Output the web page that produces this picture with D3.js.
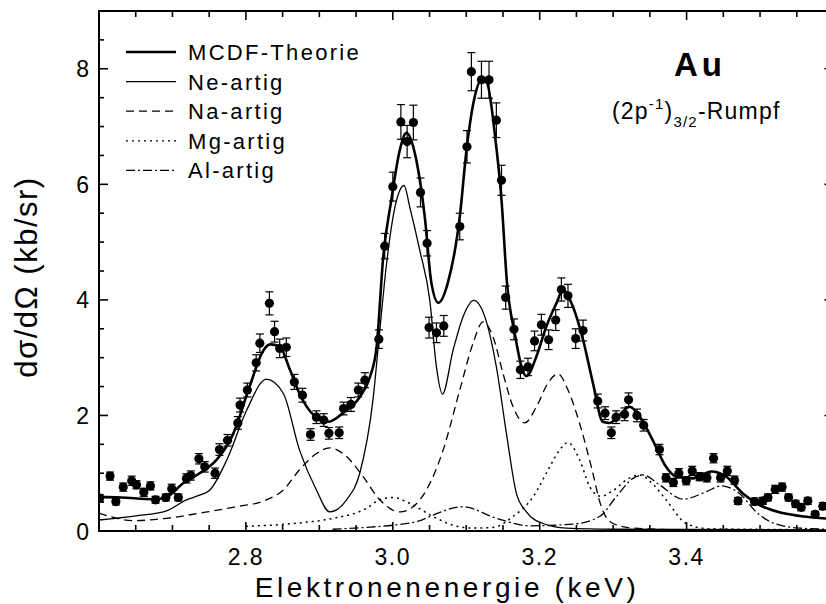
<!DOCTYPE html>
<html><head><meta charset="utf-8">
<script src="https://cdn.jsdelivr.net/npm/d3@7"></script>
<style>body{margin:0;background:#fff}svg{display:block}text{font-family:"Liberation Sans",Arial,sans-serif;fill:#000}</style>
</head><body>
<svg id="c" width="826" height="604"></svg>
<script>
// ---- data ----
const xTicks = [2.8, 3.0, 3.2, 3.4];
const yTicks = [0, 2, 4, 6, 8];
const seriesNames = ["MCDF-Theorie", "Ne-artig", "Na-artig", "Mg-artig", "Al-artig"];

const dataE = [2.601,2.615,2.623,2.633,2.6445,2.651,2.661,2.670,2.677,2.691,2.699,2.708,2.719,2.725,2.736,2.744,2.758,2.764,2.775,2.789,2.792,2.802,2.814,2.819,2.832,2.839,2.846,2.855,2.866,2.877,2.888,2.896,2.906,2.913,2.927,2.933,2.943,2.953,2.962,2.981,2.989,3.000,3.011,3.0195,3.028,3.0377,3.0467,3.0494,3.0595,3.0694,3.0912,3.101,3.107,3.1207,3.131,3.141,3.148,3.1537,3.165,3.1737,3.184,3.193,3.2023,3.2122,3.2218,3.2295,3.2385,3.249,3.259,3.279,3.289,3.2975,3.304,3.3156,3.321,3.3324,3.3415,3.363,3.372,3.382,3.3895,3.3995,3.4077,3.4177,3.4276,3.4367,3.4463,3.4554,3.4653,3.47,3.4925,3.5038,3.5107,3.5206,3.530,3.5388,3.5483,3.556,3.565,3.575,3.5855];
const dataV = [0.57,0.95,0.51,0.76,0.87,0.80,0.67,0.78,0.54,0.58,0.73,0.58,0.91,0.96,1.25,1.11,1.00,1.41,1.57,1.87,2.18,2.44,2.91,3.25,3.94,3.45,3.16,3.18,2.58,2.35,1.67,1.97,1.92,1.69,1.70,2.12,2.19,2.44,2.61,3.32,4.93,5.96,7.08,6.74,7.07,5.86,4.98,3.52,3.43,3.55,5.27,6.65,7.95,7.81,7.81,7.11,6.07,4.04,3.49,2.79,2.84,3.29,3.57,3.31,3.65,4.18,4.07,3.33,3.47,2.25,2.04,1.70,1.97,2.02,2.27,2.00,1.83,1.41,0.92,0.84,1.00,0.87,1.04,0.94,0.92,1.26,0.92,1.04,0.88,0.52,0.51,0.52,0.58,0.72,0.76,0.58,0.47,0.41,0.52,0.29,0.43];
const dataErr = [0.06,0.07,0.06,0.07,0.08,0.07,0.07,0.07,0.06,0.06,0.08,0.06,0.08,0.08,0.09,0.09,0.09,0.1,0.1,0.11,0.12,0.12,0.14,0.16,0.2,0.18,0.16,0.16,0.13,0.12,0.1,0.11,0.11,0.1,0.1,0.11,0.12,0.12,0.13,0.16,0.22,0.25,0.3,0.28,0.3,0.25,0.22,0.18,0.17,0.18,0.23,0.28,0.33,0.32,0.32,0.3,0.26,0.2,0.18,0.15,0.15,0.17,0.18,0.17,0.18,0.2,0.2,0.17,0.18,0.12,0.11,0.1,0.11,0.11,0.12,0.11,0.1,0.09,0.07,0.07,0.08,0.07,0.08,0.07,0.07,0.08,0.07,0.08,0.07,0.06,0.06,0.06,0.06,0.07,0.07,0.06,0.06,0.06,0.06,0.05,0.06];

const totalE = [2.60,2.63,2.674,2.692,2.715,2.737,2.76,2.783,2.805,2.824,2.833,2.846,2.86,2.874,2.892,2.912,2.932,2.955,2.969,2.978,2.987,2.998,3.0095,3.0186,3.032,3.0435,3.0526,3.062,3.075,3.0912,3.1003,3.1116,3.1207,3.1283,3.1388,3.148,3.1555,3.166,3.1773,3.182,3.1955,3.209,3.2227,3.2317,3.2453,3.259,3.2725,3.286,3.295,3.309,3.3224,3.336,3.354,3.372,3.386,3.4086,3.4336,3.454,3.4766,3.4993,3.531,3.56,3.6];
const totalV = [0.59,0.58,0.55,0.59,0.83,1.0,1.23,1.69,2.50,3.13,3.23,3.19,2.79,2.35,2.01,1.89,2.04,2.32,2.67,3.19,4.75,5.73,6.59,6.89,6.42,5.44,4.29,3.95,4.3,5.44,6.59,7.52,7.81,7.75,6.88,5.73,4.29,3.42,2.76,2.68,3.02,3.54,3.94,4.17,3.88,3.31,2.56,1.89,1.87,2.01,2.15,1.98,1.57,1.11,0.94,0.91,1.03,0.94,0.65,0.45,0.31,0.25,0.21];

const neE = [2.60,2.65,2.692,2.719,2.737,2.751,2.774,2.801,2.828,2.851,2.873,2.896,2.914,2.937,2.955,2.973,2.982,2.991,3.003,3.0154,3.023,3.0367,3.0503,3.0594,3.0676,3.0821,3.0957,3.1102,3.1252,3.141,3.1547,3.1683,3.1819,3.2045,3.2363,3.3,3.6];
const neV = [0.19,0.26,0.35,0.54,0.62,0.71,1.23,2.09,2.63,2.38,1.40,0.71,0.33,0.54,1.0,2.27,3.43,4.57,5.61,5.98,5.61,4.86,4.0,2.84,2.37,3.13,3.71,3.99,3.71,2.84,1.69,0.65,0.33,0.13,0.05,0.03,0.02];

const naE = [2.60,2.6467,2.692,2.7374,2.7827,2.828,2.851,2.873,2.896,2.914,2.937,2.9596,2.9823,3.0095,3.0276,3.0458,3.0685,3.0912,3.1093,3.1229,3.1365,3.15,3.1637,3.1796,3.1955,3.2113,3.2249,3.2385,3.2544,3.2703,3.2839,3.2997,3.327,3.4,3.6];
const naV = [0.31,0.18,0.22,0.31,0.41,0.54,0.71,1.06,1.34,1.44,1.29,0.94,0.54,0.33,0.42,0.71,1.40,2.44,3.25,3.62,3.36,2.73,2.15,1.87,2.15,2.56,2.72,2.44,1.86,1.11,0.42,0.13,0.05,0.02,0.01];

const mgE = [2.80,2.873,2.919,2.964,2.982,3.0004,3.023,3.055,3.082,3.109,3.136,3.1637,3.191,3.2136,3.227,3.2385,3.2544,3.268,3.283,3.30,3.32,3.336,3.355,3.372,3.3995,3.43,3.6];
const mgV = [0.08,0.14,0.22,0.39,0.54,0.58,0.48,0.25,0.10,0.05,0.06,0.25,0.59,1.11,1.40,1.53,1.23,0.77,0.6,0.7,0.9,0.97,0.8,0.54,0.13,0.04,0.02];

const alE = [2.918,2.96,3.0,3.037,3.05,3.0957,3.141,3.186,3.2453,3.2816,3.304,3.327,3.3406,3.363,3.395,3.4268,3.447,3.472,3.4948,3.5174,3.554,3.6];
const alV = [0.03,0.06,0.10,0.18,0.25,0.42,0.22,0.09,0.12,0.25,0.59,0.91,0.97,0.80,0.55,0.68,0.78,0.65,0.33,0.14,0.05,0.03];

// ---- layout ----
const svg = d3.select("#c");
const L = 99, R = 833.5, T = 11, B = 531;
const x = d3.scaleLinear().domain([2.6, 3.6]).range([L, R]);
const y = d3.scaleLinear().domain([0, 9]).range([B, T]);

svg.append("defs").append("clipPath").attr("id","clip")
  .append("rect").attr("x",L).attr("y",T).attr("width",R-L).attr("height",B-T);

const zip = (a,b) => a.map((v,i)=>[v,b[i]]);
const line = d3.line().x(d=>x(d[0])).y(d=>y(d[1])).curve(d3.curveMonotoneX);
const plot = svg.append("g").attr("clip-path","url(#clip)");

const styles = [
  {E: totalE, V: totalV, w: 2.6, dash: null},
  {E: neE, V: neV, w: 1.3, dash: null},
  {E: naE, V: naV, w: 1.3, dash: "8,5"},
  {E: mgE, V: mgV, w: 1.5, dash: "2,4"},
  {E: alE, V: alV, w: 1.3, dash: "9,3,2,3"}
];
// draw components first, total on top
[1,2,3,4,0].forEach(i=>{
  const s = styles[i];
  plot.append("path").datum(zip(s.E,s.V)).attr("d",line)
    .attr("fill","none").attr("stroke","#000").attr("stroke-width",s.w)
    .attr("stroke-dasharray",s.dash).attr("stroke-linejoin","round");
});

// data points with error bars
const pts = dataE.map((e,i)=>({e, v:dataV[i], err:dataErr[i]}));
const g = plot.append("g");
pts.forEach(p=>{
  const cx = x(p.e), y1 = y(p.v+p.err), y2 = y(p.v-p.err);
  g.append("line").attr("x1",cx).attr("x2",cx).attr("y1",y1).attr("y2",y2).attr("stroke","#000").attr("stroke-width",1.2);
  g.append("line").attr("x1",cx-4).attr("x2",cx+4).attr("y1",y1).attr("y2",y1).attr("stroke","#000").attr("stroke-width",1.2);
  g.append("line").attr("x1",cx-4).attr("x2",cx+4).attr("y1",y2).attr("y2",y2).attr("stroke","#000").attr("stroke-width",1.2);
  g.append("circle").attr("cx",cx).attr("cy",y(p.v)).attr("r",4.6).attr("fill","#000");
});

// ---- axes / frame ----
const frame = svg.append("g").attr("stroke","#000").attr("stroke-width",2).attr("fill","none");
frame.append("rect").attr("x",L).attr("y",T).attr("width",R-L).attr("height",B-T);

const xMinor = d3.range(2.6, 3.6001, 0.05);
const yMinor = d3.range(0, 9.0001, 0.5);
const isMajX = v => xTicks.some(t=>Math.abs(t-v)<1e-6);
const isMajY = v => yTicks.some(t=>Math.abs(t-v)<1e-6);
const tk = svg.append("g").attr("stroke","#000").attr("stroke-width",1.6);
xMinor.forEach(v=>{
  const len = isMajX(v) ? 9 : 6;
  tk.append("line").attr("x1",x(v)).attr("x2",x(v)).attr("y1",B).attr("y2",B-len);
  tk.append("line").attr("x1",x(v)).attr("x2",x(v)).attr("y1",T).attr("y2",T+len);
});
yMinor.forEach(v=>{
  const len = isMajY(v) ? 9 : 5;
  tk.append("line").attr("y1",y(v)).attr("y2",y(v)).attr("x1",L).attr("x2",L+len);
  tk.append("line").attr("y1",y(v)).attr("y2",y(v)).attr("x1",R).attr("x2",R-len);
});

// tick labels
svg.selectAll(".xl").data(xTicks).enter().append("text")
  .attr("x",d=>x(d)).attr("y",565).attr("text-anchor","middle")
  .attr("font-size",23).attr("letter-spacing",1.5).text(d=>d3.format(".1f")(d));
svg.selectAll(".yl").data(yTicks).enter().append("text")
  .attr("x",89).attr("y",d=>y(d)+8.5).attr("text-anchor","end")
  .attr("font-size",23).text(d=>d);

// axis titles
svg.append("text").attr("x",447).attr("y",597).attr("text-anchor","middle")
  .attr("font-size",28).attr("letter-spacing",3.6).text("Elektronenenergie (keV)");
svg.append("text").attr("transform","translate(37,277) rotate(-90)").attr("text-anchor","middle")
  .attr("font-size",31).attr("letter-spacing",1.5).text("dσ/dΩ (kb/sr)");

// legend
const lg = svg.append("g");
styles.forEach((s,i)=>{
  const yy = 52 + i*29.6;
  lg.append("line").attr("x1",126).attr("x2",176).attr("y1",yy).attr("y2",yy)
    .attr("stroke","#000").attr("stroke-width", i===0?2.6:1.3).attr("stroke-dasharray",s.dash);
  lg.append("text").attr("x",188).attr("y",yy+8).attr("font-size",22).attr("letter-spacing",2.3).text(seriesNames[i]);
});

// annotations
svg.append("text").attr("x",700).attr("y",76).attr("text-anchor","middle")
  .attr("font-size",33).attr("font-weight","bold").attr("letter-spacing",4).text("Au");
const ann = svg.append("text").attr("x",612).attr("y",118.5).attr("font-size",23).attr("letter-spacing",1.2);
ann.append("tspan").text("(2p");
ann.append("tspan").attr("font-size",15).attr("dy",-10).text("-1");
ann.append("tspan").attr("dy",10).text(")");
ann.append("tspan").attr("font-size",15).attr("dy",8).text("3/2");
ann.append("tspan").attr("dy",-8).text("-Rumpf");
</script>
</body></html>
